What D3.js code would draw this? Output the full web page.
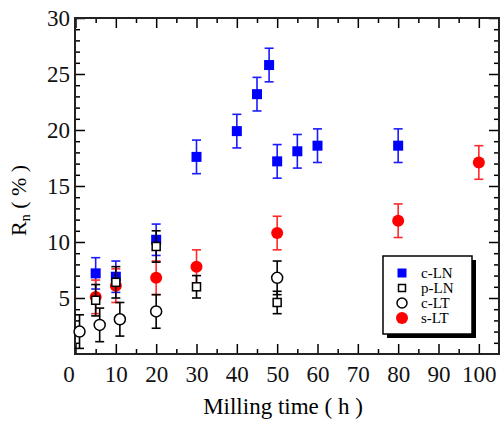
<!DOCTYPE html>
<meta charset="utf-8">
<style>
body { margin: 0; background: #fff; }
.axis path { display: none; }
.axis line { stroke: #000; stroke-width: 1.5px; }
</style>
<svg width="501" height="425"></svg>
<script src="https://cdn.jsdelivr.net/npm/d3@7"></script>
<script>

// data
var cLN_x   = [5, 10, 20, 30, 40, 45, 48, 50, 55, 60, 80],
    cLN_y   = [7.2, 6.9, 10.2, 17.6, 19.9, 23.2, 25.8, 17.2, 18.1, 18.6, 18.6],
    cLN_err = [1.4, 1.4, 1.4, 1.5, 1.5, 1.5, 1.5, 1.5, 1.5, 1.5, 1.5];

var pLN_x   = [5, 10, 20, 30, 50],
    pLN_y   = [4.8, 6.4, 9.6, 6.0, 4.6],
    pLN_err = [1.4, 1.4, 1.4, 1.0, 1.0];

var cLT_x   = [1, 6, 11, 20, 50],
    cLT_y   = [2.0, 2.6, 3.1, 3.8, 6.8],
    cLT_err = [1.5, 1.5, 1.5, 1.5, 1.5];

var sLT_x   = [5, 10, 20, 30, 50, 80, 100],
    sLT_y   = [5.1, 6.1, 6.8, 7.8, 10.8, 11.9, 17.1],
    sLT_err = [1.5, 1.5, 1.5, 1.5, 1.5, 1.5, 1.5];

var xTicks = [0, 10, 20, 30, 40, 50, 60, 70, 80, 90, 100],
    yTicks = [5, 10, 15, 20, 25, 30];

var legendNames = ["c-LN", "p-LN", "c-LT", "s-LT"];

var serif = "'Liberation Serif', serif";

var svg = d3.select("svg"),
    margin = {top: 18, right: 2, bottom: 71, left: 75},
    width = +svg.attr("width") - margin.left - margin.right,
    height = +svg.attr("height") - margin.top - margin.bottom;

var g = svg.append("g").attr("transform", "translate(" + margin.left + "," + margin.top + ")");

var x = d3.scaleLinear().domain([0, 105]).range([0.5, width]),
    y = d3.scaleLinear().domain([0, 30]).range([height, 0]);

function zip(xs, ys, es) {
  return xs.map(function(v, i) { return {x: v, y: ys[i], e: es[i]}; });
}

var series = [
  {name: "c-LN", data: zip(cLN_x, cLN_y, cLN_err), shape: "square", size: 10, fill: "#0000ff", stroke: "#0000ff", bar: "#1a1aff"},
  {name: "s-LT", data: zip(sLT_x, sLT_y, sLT_err), shape: "circle", size: 12, fill: "#ff0000", stroke: "#ff0000", bar: "#ff2a2a"},
  {name: "p-LN", data: zip(pLN_x, pLN_y, pLN_err), shape: "square", size: 8, fill: "#fff", stroke: "#000", bar: "#000"},
  {name: "c-LT", data: zip(cLT_x, cLT_y, cLT_err), shape: "circle", size: 11, fill: "#fff", stroke: "#000", bar: "#000"}
];

// minor / major ticks, pointing inward on all sides
var xMinor = d3.range(5, 101, 10),
    yMinor = d3.range(1, 30).filter(function(v) { return v % 5 !== 0; });

function styleAxis(sel) {
  sel.attr("font-family", serif).attr("font-size", 23);
  sel.selectAll("text").style("font-family", serif).style("font-size", "23px").attr("fill", "#111");
}

var xAxisG = g.append("g").attr("class", "axis")
    .attr("transform", "translate(0," + height + ")")
    .call(d3.axisBottom(x).tickValues(xTicks).tickSize(-10).tickPadding(12))
    .call(styleAxis);
xAxisG.selectAll("text").filter(function(d) { return d === 0; }).attr("dx", -7);
g.append("g").attr("class", "axis")
    .attr("transform", "translate(0," + height + ")")
    .call(d3.axisBottom(x).tickValues(xMinor).tickSize(-5).tickFormat(""));
g.append("g").attr("class", "axis")
    .call(d3.axisTop(x).tickValues(xTicks).tickSize(-10).tickFormat(""));
g.append("g").attr("class", "axis")
    .call(d3.axisTop(x).tickValues(xMinor).tickSize(-5).tickFormat(""));

g.append("g").attr("class", "axis")
    .call(d3.axisLeft(y).tickValues(yTicks).tickSize(-10).tickPadding(5))
    .call(styleAxis);
g.append("g").attr("class", "axis")
    .call(d3.axisLeft(y).tickValues(yMinor).tickSize(-5).tickFormat(""));
g.append("g").attr("class", "axis")
    .attr("transform", "translate(" + width + ",0)")
    .call(d3.axisRight(y).tickValues(yTicks).tickSize(-10).tickFormat(""));
g.append("g").attr("class", "axis")
    .attr("transform", "translate(" + width + ",0)")
    .call(d3.axisRight(y).tickValues(yMinor).tickSize(-5).tickFormat(""));

// frame
g.append("rect")
    .attr("width", width)
    .attr("height", height)
    .attr("fill", "none")
    .attr("stroke", "#222")
    .attr("stroke-width", 2);

// error bars + markers
function drawSymbol(sel, s) {
  if (s.shape === "square") {
    sel.append("rect")
        .attr("x", -s.size / 2).attr("y", -s.size / 2)
        .attr("width", s.size).attr("height", s.size)
        .attr("fill", s.fill).attr("stroke", s.stroke)
        .attr("stroke-width", s.fill === "#fff" ? 1.5 : 0);
  } else {
    sel.append("circle")
        .attr("r", s.size / 2)
        .attr("fill", s.fill).attr("stroke", s.stroke)
        .attr("stroke-width", s.fill === "#fff" ? 1.5 : 0);
  }
}

series.forEach(function(s) {
  var grp = g.append("g");
  var pt = grp.selectAll("g.pt")
    .data(s.data)
    .enter().append("g").attr("class", "pt");

  pt.append("line")
      .attr("x1", function(d) { return x(d.x); })
      .attr("x2", function(d) { return x(d.x); })
      .attr("y1", function(d) { return y(d.y - d.e); })
      .attr("y2", function(d) { return y(d.y + d.e); })
      .attr("stroke", s.bar).attr("stroke-width", 1.6);
  [-1, 1].forEach(function(sign) {
    pt.append("line")
        .attr("x1", function(d) { return x(d.x) - 4.5; })
        .attr("x2", function(d) { return x(d.x) + 4.5; })
        .attr("y1", function(d) { return y(d.y + sign * d.e); })
        .attr("y2", function(d) { return y(d.y + sign * d.e); })
        .attr("stroke", s.bar).attr("stroke-width", 1.6);
  });

  pt.append("g")
      .attr("transform", function(d) { return "translate(" + x(d.x) + "," + y(d.y) + ")"; })
      .each(function() { drawSymbol(d3.select(this), s); });
});

// legend
var legendSeries = legendNames.map(function(n) { return series.find(function(s) { return s.name === n; }); });
var lg = svg.append("g").attr("transform", "translate(383,256)");
lg.append("rect").attr("x", 4).attr("y", 4).attr("width", 89).attr("height", 78).attr("fill", "#000");
lg.append("rect").attr("width", 89).attr("height", 78)
    .attr("fill", "#fff").attr("stroke", "#000").attr("stroke-width", 1.5);

var legendSizes = {"c-LN": 9, "p-LN": 7, "c-LT": 10, "s-LT": 12};
var item = lg.selectAll(".item")
  .data(legendSeries)
  .enter().append("g")
    .attr("class", "item")
    .attr("transform", function(d, i) { return "translate(19," + (17 + i * 15) + ")"; });

item.each(function(d) {
  var s = Object.assign({}, d, {size: legendSizes[d.name]});
  drawSymbol(d3.select(this), s);
});
item.append("text")
    .attr("x", 19)
    .attr("dy", "0.35em")
    .style("font-family", serif)
    .style("font-size", "15px")
    .text(function(d) { return d.name; });

// axis titles
svg.append("text")
    .attr("x", margin.left + width / 2 - 4)
    .attr("y", 414)
    .attr("text-anchor", "middle")
    .style("font-family", serif)
    .style("font-size", "23px")
    .text("Milling time ( h )");

var yl = svg.append("text")
    .attr("transform", "translate(26,236) rotate(-90)")
    .style("font-family", serif)
    .style("font-size", "22px");
yl.append("tspan").text("R");
yl.append("tspan").attr("baseline-shift", "-25%").style("font-size", "14px").text("n");
yl.append("tspan").text(" ( % )");

</script>
